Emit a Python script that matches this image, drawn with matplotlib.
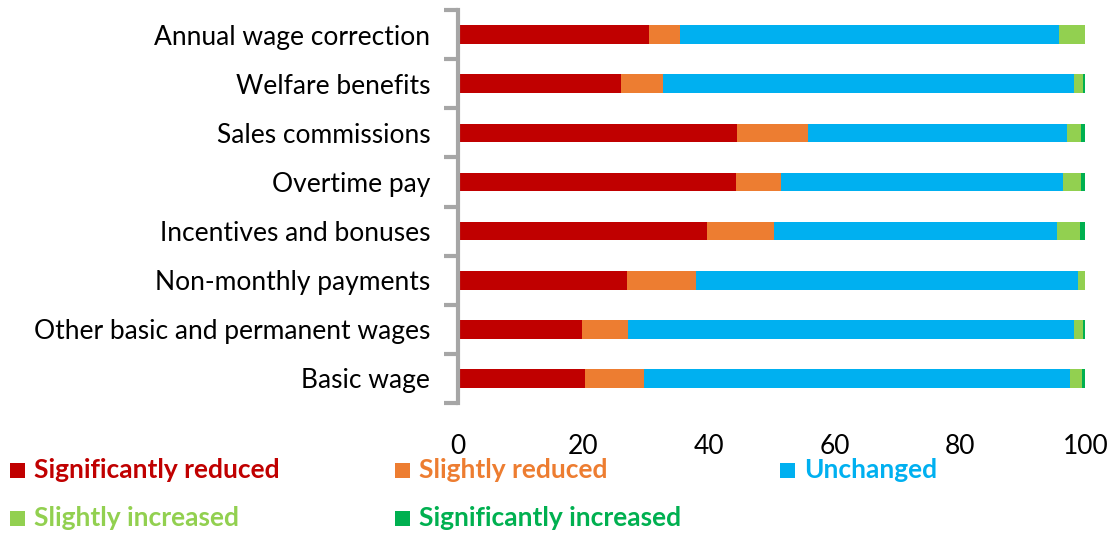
import matplotlib.pyplot as plt
from matplotlib.patches import Rectangle

# Categories, top to bottom as shown
categories = [
    'Annual wage correction',
    'Welfare benefits',
    'Sales commissions',
    'Overtime pay',
    'Incentives and bonuses',
    'Non-monthly payments',
    'Other basic and permanent wages',
    'Basic wage',
]

series_names = [
    'Significantly reduced',
    'Slightly reduced',
    'Unchanged',
    'Slightly increased',
    'Significantly increased',
]

sig_reduced = [30.4, 25.9, 44.5, 44.3, 39.7, 26.9, 19.7, 20.3]
slight_reduced = [5.0, 6.8, 11.3, 7.1, 10.7, 11.0, 7.4, 9.4]
unchanged = [60.4, 65.5, 41.3, 45.0, 45.1, 60.9, 71.1, 67.9]
slight_increased = [4.1, 1.4, 2.2, 2.9, 3.6, 1.1, 1.4, 1.8]
sig_increased = [0.1, 0.4, 0.7, 0.7, 0.9, 0.1, 0.4, 0.6]

colors = ['#C00000', '#ED7D31', '#00B0F0', '#92D050', '#00B050']

plt.rcParams['font.family'] = ['Lato', 'DejaVu Sans']

fig = plt.figure(figsize=(11.15, 5.33), dpi=100)
ax = fig.add_axes([0.4108, 0.244, 0.5627, 0.737])

series = [sig_reduced, slight_reduced, unchanged, slight_increased,
          sig_increased]
ypos = list(range(len(categories)))
left = [0.0] * len(categories)
for name, values, color in zip(series_names, series, colors):
    ax.barh(ypos, values, left=left, height=0.38, color=color,
            edgecolor='none', label=name)
    left = [a + b for a, b in zip(left, values)]

ax.set_xlim(0, 100)
ax.set_ylim(len(categories) - 0.5, -0.5)
ax.set_yticks(ypos)
ax.set_yticklabels(categories, fontsize=19)
ax.set_xticks([0, 20, 40, 60, 80, 100])
ax.tick_params(axis='x', length=0, labelsize=19, pad=22)

# grey axis with tick marks on the category boundaries
ax.tick_params(axis='y', length=0, pad=20)
ax.set_yticks([i - 0.5 for i in range(len(categories) + 1)], minor=True)
ax.tick_params(axis='y', which='minor', length=10, width=3,
               color='#A6A6A6')
for side in ['top', 'right', 'bottom']:
    ax.spines[side].set_visible(False)
ax.spines['left'].set_color('#A6A6A6')
ax.spines['left'].set_linewidth(3)

# legend laid out in fixed columns like the source
col_x = [10, 395, 780]
row_y = [470, 518]
W, H = 1115, 533
for i, (name, color) in enumerate(zip(series_names, colors)):
    cx = col_x[i % 3]
    cy = row_y[i // 3]
    fig.patches.append(Rectangle((cx / W, 1 - (cy + 8) / H), 15 / W,
                                 15 / H, transform=fig.transFigure,
                                 facecolor=color, edgecolor='none'))
    fig.text((cx + 24) / W, 1 - cy / H, name, color=color, fontsize=19,
             fontweight='bold', va='center', ha='left')

fig.savefig('out.png', dpi=100)
